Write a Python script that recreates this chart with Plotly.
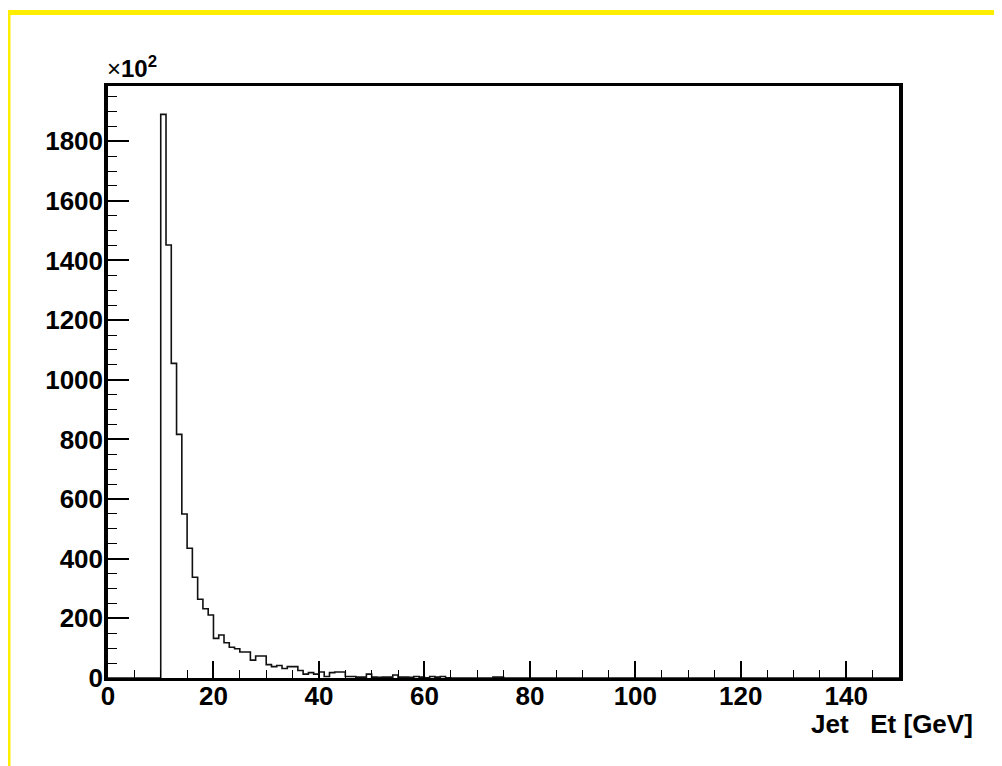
import plotly.graph_objects as go

# Histogram: Jet Et, 1 GeV bins from 0 to 150 (values in units of x10^2)
bin_width = 1.0
x_min = 0.0
n_bins = 150
# counts by bin index (bins 0..9 are empty)
counts_nonzero_start = 10
counts_nonzero = [
    1890, 1452, 1055, 817, 550, 435, 338, 264, 232, 211,   # 10-19
    133, 144, 118, 103, 98, 87, 87, 60, 74, 74,           # 20-29
    45, 38, 42, 32, 38, 38, 25, 13, 18, 13,               # 30-39
    20, 5, 18, 20, 20, 5, 5, 3, 3, 13,                    # 40-49
    3, 2, 3, 3, 10, 3, 3, 2, 5, 3,                        # 50-59
    1, 5, 3, 5, 1, 0, 0, 0, 0, 0,                         # 60-69
    0, 0, 0, 3, 3, 0,                                     # 70-75
]
y_ticks = [0, 200, 400, 600, 800, 1000, 1200, 1400, 1600, 1800]
x_ticks = [0, 20, 40, 60, 80, 100, 120, 140]
x_title = "Jet   Et [GeV]"
y_scale_label = "×<b>10<sup>2</sup></b>"

counts = [0] * n_bins
for i, v in enumerate(counts_nonzero):
    counts[counts_nonzero_start + i] = v
edges = [x_min + i * bin_width for i in range(n_bins + 1)]
ys = counts + [counts[-1]]

fig = go.Figure()
fig.add_trace(go.Scatter(
    x=edges, y=ys, mode="lines", line=dict(shape="hv", color="#111111", width=1.6),
    showlegend=False, hoverinfo="skip",
))

# page has an 8px body margin; target plot area in page pixels: x 108..899, y 86..678
OFF = 8
W, H = 1002 - OFF, 766 - OFF
L, T = 108 - OFF, 86 - OFF
pw, ph = 791, 592
R = W - L - pw
B = H - T - ph

font = dict(family="Liberation Sans, Arial, sans-serif", size=26, color="black", weight="bold")

fig.update_layout(
    width=W, height=H,
    margin=dict(l=L, r=R, t=T, b=B, pad=0),
    paper_bgcolor="white", plot_bgcolor="white",
    xaxis=dict(
        range=[0, 150], tickvals=x_ticks, ticks="inside", ticklen=17, tickwidth=1.5,
        tickcolor="black", showline=True, linewidth=3, linecolor="black", mirror=True,
        showgrid=False, zeroline=False, tickfont=font, ticklabelstandoff=-7,
        minor=dict(dtick=5, ticks="inside", ticklen=8, tickwidth=1.2, tickcolor="black", showgrid=False),
    ),
    yaxis=dict(
        range=[0, 1985], tickvals=y_ticks, ticks="inside", ticklen=21, tickwidth=1.5,
        tickcolor="black", showline=True, linewidth=3.5, linecolor="black", mirror=True,
        showgrid=False, zeroline=False, tickfont=font, ticklabelstandoff=-4,
        minor=dict(dtick=50, ticks="inside", ticklen=9, tickwidth=1.2, tickcolor="black", showgrid=False),
    ),
)

# convert page pixel positions to paper coordinates
def px_x(p):
    return (p - OFF - L) / pw

def px_y(p):
    return (T + ph - (p - OFF)) / ph

fig.add_annotation(
    text=x_title, xref="paper", yref="paper", x=px_x(975), y=px_y(724),
    xanchor="right", yanchor="middle", showarrow=False, font=font,
)
fig.add_annotation(
    text=y_scale_label, xref="paper", yref="paper", x=px_x(105), y=px_y(84),
    xanchor="left", yanchor="bottom", showarrow=False,
    font=dict(family="Liberation Sans, Arial, sans-serif", size=24, color="black"),
)

yellow = "#FFEE00"
fig.add_shape(type="line", xref="paper", yref="paper",
              x0=px_x(6), x1=px_x(1002), y0=px_y(12.5), y1=px_y(12.5),
              line=dict(color=yellow, width=5))
fig.add_shape(type="line", xref="paper", yref="paper",
              x0=px_x(8.5), x1=px_x(8.5), y0=px_y(10), y1=px_y(766),
              line=dict(color=yellow, width=4))

fig.write_html("out.html")
